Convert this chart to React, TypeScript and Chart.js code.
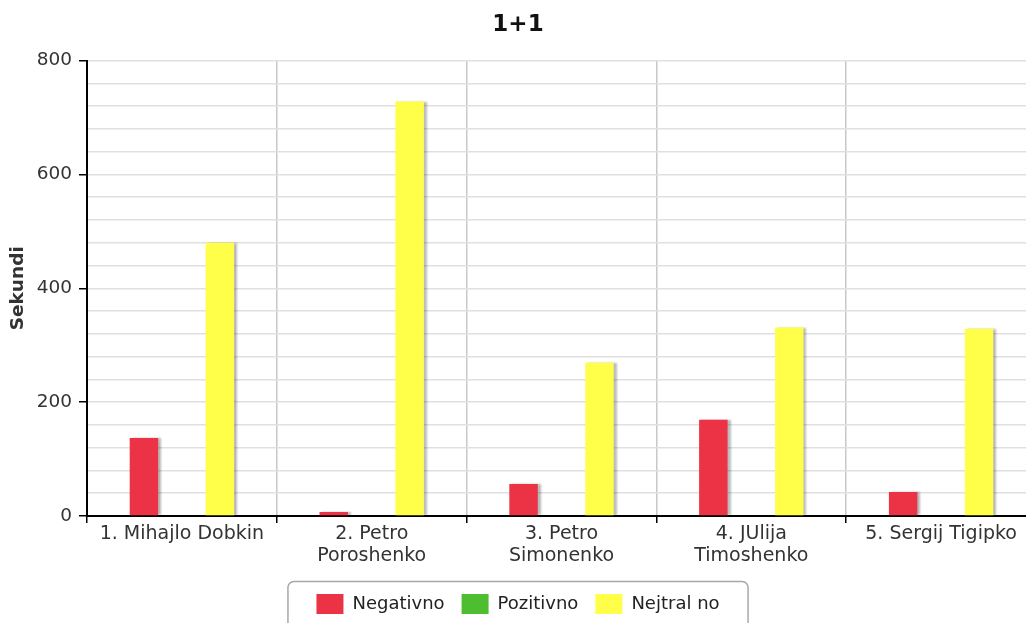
import React, { useEffect, useRef } from "react";
import { Chart, registerables } from "chart.js";

Chart.register(...registerables);

const chartTitle = "1+1";
const yAxisTitle = "Sekundi";
const categories: (string | string[])[] = [
  "1. Mihajlo Dobkin",
  ["2. Petro", "Poroshenko"],
  ["3. Petro", "Simonenko"],
  ["4. JUlija", "Timoshenko"],
  "5. Sergij Tigipko",
];
const seriesNames = ["Negativno", "Pozitivno", "Nejtral no"];
const negativno = [137, 7, 56, 169, 42];
const pozitivno = [0, 0, 0, 0, 0];
const nejtralno = [480, 728, 269, 331, 329];
const yMin = 0;
const yMax = 800;
const yMinorStep = 40;
const yLabelStep = 200;

const FONT = "'DejaVu Sans', sans-serif";

const shadowPlugin = {
  id: "barShadow",
  beforeDatasetsDraw(chart: any) {
    const ctx = chart.ctx;
    ctx.save();
    ctx.shadowColor = "rgba(0,0,0,0.28)";
    ctx.shadowOffsetX = 3;
    ctx.shadowOffsetY = 0;
    ctx.shadowBlur = 2;
  },
  afterDatasetsDraw(chart: any) {
    chart.ctx.restore();
  },
};

const legendBoxPlugin = {
  id: "legendBox",
  afterDraw(chart: any) {
    const legend = chart.legend;
    if (!legend || !legend.legendHitBoxes || !legend.legendHitBoxes.length) return;
    const boxes = legend.legendHitBoxes;
    let minL = Infinity;
    let maxR = -Infinity;
    let top = Infinity;
    for (const b of boxes) {
      minL = Math.min(minL, b.left);
      maxR = Math.max(maxR, b.left + b.width);
      top = Math.min(top, b.top);
    }
    const ctx = chart.ctx;
    const x = minL - 29;
    const w = maxR + 28 - x;
    const y = top - 13;
    const h = 60;
    ctx.save();
    ctx.strokeStyle = "#a8a8a8";
    ctx.lineWidth = 1.5;
    ctx.beginPath();
    (ctx as any).roundRect(x + 0.5, y + 0.5, w, h, 6);
    ctx.stroke();
    ctx.restore();
  },
};

export default function App() {
  const ref = useRef<HTMLCanvasElement | null>(null);

  useEffect(() => {
    if (!ref.current) return;
    const chart = new Chart(ref.current, {
      type: "bar",
      data: {
        labels: categories as any,
        datasets: [
          { label: seriesNames[0], data: negativno, backgroundColor: "#EC3346", borderWidth: 0 },
          { label: seriesNames[1], data: pozitivno, backgroundColor: "#4DBE30", borderWidth: 0 },
          { label: seriesNames[2], data: nejtralno, backgroundColor: "#FFFF4A", borderWidth: 0 },
        ],
      },
      options: {
        responsive: false,
        animation: false,
        events: [],
        layout: { padding: 0 },
        datasets: {
          bar: { categoryPercentage: 0.6, barPercentage: 0.75 },
        },
        plugins: {
          title: {
            display: true,
            text: chartTitle,
            color: "#111",
            font: { family: FONT, size: 23, weight: "bold" },
            padding: { top: 11, bottom: 22 },
          },
          legend: {
            position: "bottom",
            labels: {
              boxWidth: 27,
              boxHeight: 20,
              padding: 17,
              color: "#222",
              font: { family: FONT, size: 18 },
            },
          },
          tooltip: { enabled: false },
        },
        scales: {
          x: {
            offset: true,
            grid: {
              offset: true,
              color: "#c8c8c8",
              lineWidth: 1.5,
              tickColor: "#000",
              tickLength: 7,
              drawTicks: true,
            },
            border: { color: "#000", width: 2 },
            ticks: {
              color: "#333",
              font: { family: FONT, size: 19, lineHeight: 1.15 },
              padding: 0,
              autoSkip: false,
              maxRotation: 0,
              minRotation: 0,
            },
            afterFit: (s: any) => {
              s.height = 61;
            },
          },
          y: {
            min: yMin,
            max: yMax,
            grid: {
              color: "#e0e0e0",
              lineWidth: 1.5,
              tickLength: 8,
              tickColor: (c: any) =>
                c.tick && c.tick.value % yLabelStep === 0 ? "#000" : "rgba(0,0,0,0)",
            },
            border: { color: "#000", width: 2 },
            ticks: {
              stepSize: yMinorStep,
              autoSkip: false,
              color: "#333",
              padding: 7,
              font: { family: FONT, size: 18.5 },
              callback: (v: any) => (Number(v) % yLabelStep === 0 ? String(v) : ""),
            },
            title: {
              display: true,
              text: yAxisTitle,
              color: "#333",
              font: { family: FONT, size: 18.5, weight: "bold" },
              padding: { top: 7, bottom: 10 },
            },
            afterFit: (s: any) => {
              s.width = 87;
            },
          },
        },
      },
      plugins: [shadowPlugin, legendBoxPlugin],
    });
    return () => chart.destroy();
  }, []);

  return (
    <div
      style={{
        position: "fixed",
        left: 0,
        top: 0,
        width: "100vw",
        height: "100vh",
        overflow: "hidden",
        background: "#fff",
      }}
    >
      <canvas ref={ref} width={1036} height={624} style={{ display: "block" }} />
    </div>
  );
}
